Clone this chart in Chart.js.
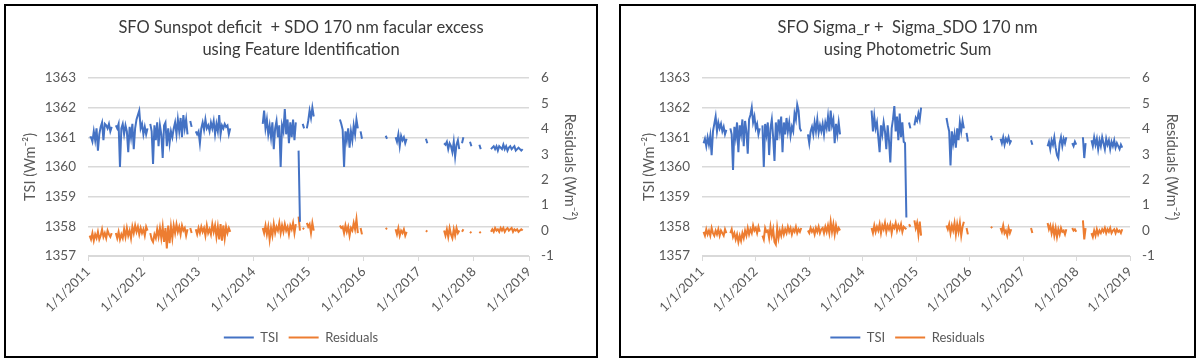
<!DOCTYPE html>
<html>
<head>
<meta charset="utf-8">
<script src="https://cdn.jsdelivr.net/npm/chart.js@4.4.1/dist/chart.umd.min.js"></script>
<style>
  body { margin: 0; background: #fff; width: 1200px; height: 364px; overflow: hidden; }
  .box { position: absolute; top: 4px; height: 350px; border: 2px solid #000; background: #fff; }
  #boxA { left: 4px; width: 590px; }
  #boxB { left: 619px; width: 573px; }
  canvas { display: block; }
</style>
</head>
<body>
<div class="box" id="boxA"><canvas id="chartA" width="590" height="350"></canvas></div>
<div class="box" id="boxB"><canvas id="chartB" width="573" height="350"></canvas></div>
<script>
// the data (x in decimal years, ~9 days between readings)

const STEP = 0.025
const yearLabels = ['1/1/2011', '1/1/2012', '1/1/2013', '1/1/2014', '1/1/2015',
                    '1/1/2016', '1/1/2017', '1/1/2018', '1/1/2019']

// left chart: feature identification
const startsA = [2011.03, 2014.17, 2015.57, 2016.40, 2016.58, 2017.13, 2017.46, 2017.93, 2018.10, 2018.26]

const tsiA = [
    [1361.0, 1361.0, 1360.85, 1361.2, 1360.9, 1361.3, 1360.55, 1361.1, 1361.35, 1361.5,
     1360.9, 1361.45, 1361.4, 1361.3, 1361.45, 1361.2, 1361.35, null, null, 1361.4,
     1361.3, 1361.45, 1360.0, 1361.3, 1361.45, 1361.1, 1361.4, 1361.2, 1360.5, 1361.35,
     1361.0, 1361.45, 1360.6, 1361.3, 1361.6, 1361.75, 1361.9, 1361.3, 1361.45, 1361.1,
     1361.35, 1361.1, 1361.3, null, 1361.45, 1361.2, 1360.1, 1361.4, 1360.9, 1361.5,
     1360.7, 1361.4, 1361.1, 1360.3, 1361.4, 1361.5, 1360.7, 1361.3, 1360.8, 1361.2,
     1361.0, 1361.3, 1361.5, 1361.1, 1361.6, 1361.2, 1361.65, 1361.0, 1361.75, 1361.3,
     1361.6, 1361.1, null, 1361.55, 1361.35, null, null, 1361.2, 1361.1, 1361.2,
     1360.8, 1361.3, 1361.5, 1361.25, 1361.6, 1361.3, 1361.4, 1361.2, 1361.5, 1361.3,
     1361.55, 1361.1, 1361.45, 1361.2, 1361.75, 1361.1, 1361.4, 1361.3, 1361.45, 1361.35,
     1361.4, 1361.1, 1361.3],
    [1361.45, 1361.9, 1361.3, 1361.6, 1361.1, 1361.4, 1361.0, 1361.5, 1360.6, 1361.3,
     1361.55, 1361.0, 1361.4, 1360.0, 1361.4, 1361.2, 1361.95, 1361.1, 1361.6, 1360.8,
     1361.5, 1361.0, 1361.6, 1360.9, 1361.5, null, 1360.55, 1358.15, null, 1361.45,
     1361.3, null, 1361.3, 1361.55, 1361.9, 1361.65, 1362.0, 1361.7],
    [1361.6, 1361.45, 1361.25, 1360.0, 1361.2, 1360.9, 1361.3, 1360.65, 1361.2, 1360.9,
     1361.4, 1361.1, 1361.6, 1361.3, null, 1361.2, 1360.95],
    [1361.05, 1360.95],
    [1361.0, 1360.85, 1361.1, 1360.7, 1361.05, 1360.9, 1361.0, 1360.8, 1360.95],
    [1360.95, 1360.8],
    [1360.8, 1360.75, 1360.85, 1360.6, 1360.8, 1360.7, 1360.5, 1360.85, 1360.35, 1360.75,
     1360.9, 1360.6, null, 1360.8, 1361.0],
    [1360.85, 1360.7],
    [1360.75, 1360.6],
    [1360.7, null, 1360.6, 1360.65, 1360.7, 1360.6, 1360.7, 1360.55, 1360.7, 1360.65,
     1360.6, 1360.75, 1360.6, 1360.7, 1360.55, 1360.65, 1360.7, 1360.6, 1360.65, 1360.7,
     1360.55, 1360.6, 1360.65, 1360.6, 1360.55, 1360.6]
]

const resA = [
    [-0.2, -0.35, -0.1, -0.4, -0.15, -0.3, -0.05, -0.35, -0.2, 0.05,
     -0.25, -0.1, -0.3, 0.0, -0.15, -0.25, -0.1, null, null, -0.1,
     -0.3, -0.05, -0.35, -0.15, -0.3, 0.05, -0.25, 0.1, -0.2, 0.0,
     -0.3, 0.15, -0.1, 0.2, -0.05, 0.15, -0.15, 0.1, -0.1, 0.05,
     -0.2, 0.15, 0.0, null, -0.1, -0.35, -0.45, -0.15, -0.3, 0.05,
     -0.25, 0.1, -0.3, 0.15, -0.45, 0.1, -0.7, 0.2, -0.5, 0.15,
     -0.3, 0.2, -0.1, 0.25, -0.05, 0.15, -0.15, 0.2, 0.0, 0.1,
     -0.2, 0.05, null, 0.1, -0.1, null, null, 0.05, -0.15, 0.1,
     -0.1, 0.15, -0.05, 0.1, -0.2, 0.2, -0.1, 0.05, -0.15, 0.25,
     -0.05, 0.2, -0.25, 0.15, -0.35, 0.25, -0.4, 0.2, -0.3, 0.15,
     -0.1, 0.1, -0.05],
    [0.1, -0.1, 0.2, -0.15, 0.15, -0.35, 0.1, -0.2, 0.25, -0.1,
     0.15, 0.0, 0.3, -0.1, 0.2, -0.05, 0.25, 0.0, 0.15, -0.15,
     0.2, 0.05, 0.3, -0.1, 0.25, null, 0.55, 0.0, null, 0.1,
     0.05, null, 0.3, 0.15, 0.25, -0.1, 0.3, 0.0],
    [0.2, 0.1, 0.15, -0.1, 0.2, -0.05, 0.15, -0.2, 0.1, 0.0,
     0.3, 0.05, 0.45, -0.1, null, 0.1, -0.15],
    [0.05, 0.1],
    [0.05, -0.15, 0.1, -0.2, 0.0, -0.1, 0.05, -0.2, -0.05],
    [0.0, -0.05],
    [0.0, -0.2, 0.05, -0.25, 0.1, -0.15, -0.3, 0.05, -0.2, 0.1,
     -0.1, 0.0, null, -0.05, 0.05],
    [-0.05, -0.1],
    [-0.05, -0.1],
    [0.0, null, -0.05, 0.05, -0.05, 0.1, 0.0, 0.05, -0.05, 0.1,
     0.0, 0.1, -0.05, 0.05, 0.1, 0.0, 0.05, 0.1, -0.05, 0.05,
     0.0, 0.05, -0.05, 0.0, 0.05, 0.0]
]

// right chart: photometric sum
const startsB = [2011.03, 2014.17, 2015.57, 2016.40, 2016.58, 2017.15, 2017.46, 2017.92, 2018.12, 2018.28]

const tsiB = [
    [1360.8, 1360.95, 1360.7, 1361.0, 1360.75, 1361.05, 1360.4, 1361.2, 1361.45, 1361.7,
     1361.2, 1361.5, 1361.3, 1361.45, 1361.2, 1361.35, 1361.1, 1361.25, null, null,
     1361.3, 1361.1, 1359.9, 1361.35, 1361.0, 1361.5, 1360.5, 1361.4, 1361.1, 1361.6,
     1360.7, 1361.55, 1361.2, 1360.45, 1361.6, 1361.75, 1362.0, 1361.5, 1361.7, 1361.3,
     1361.45, 1361.1, 1361.3, null, 1361.4, 1360.0, 1361.45, 1361.1, 1361.5, 1360.4,
     1361.3, 1361.6, 1361.0, 1360.2, 1361.5, 1360.9, 1361.6, 1361.2, 1361.7, 1360.5,
     1361.5, 1361.1, 1361.65, 1361.2, 1361.5, 1361.05, 1361.35, 1361.2, 1361.8, 1361.6,
     1362.1, 1361.9, 1361.3, 1361.2, null, null, null, null, 1361.1, 1360.8,
     1361.2, 1361.35, 1361.1, 1361.5, 1361.2, 1361.6, 1361.15, 1361.4, 1361.2, 1361.45,
     1361.1, 1361.5, 1361.3, 1361.7, 1361.2, 1361.9, 1361.4, 1361.6, 1360.8, 1361.45,
     1361.1, 1361.5, 1361.1],
    [1361.9, 1361.2, 1361.7, 1361.3, 1361.5, 1361.0, 1360.5, 1361.4, 1361.1, 1361.5,
     1361.2, 1360.6, 1361.4, 1360.9, 1360.15, 1361.3, 1361.6, 1362.05, 1361.2, 1361.7,
     1360.9, 1361.8, 1361.0, 1361.5, 1360.85, 1360.8, 1358.3, null, 1361.5, 1361.3,
     null, null, 1361.4, 1361.65, 1361.55, 1361.8, 1361.6, 1362.0],
    [1361.65, 1361.4, 1361.2, 1360.05, 1361.2, 1360.8, 1361.1, 1360.65, 1361.3, 1360.9,
     1361.5, 1361.2, 1361.55, 1361.3, null, 1361.15, 1360.85],
    [1361.05, 1360.9],
    [1360.95, 1360.8, 1361.0, 1360.75, 1360.95, 1360.85, 1361.0, 1360.8, 1360.9],
    [1360.9, 1360.75],
    [1360.7, 1360.85, 1360.6, 1360.9, 1360.75, 1361.0, 1360.65, 1360.4, 1360.3, 1360.8,
     1361.0, 1360.7, 1360.95, 1360.8, 1361.0],
    [1360.8, 1360.7, 1360.85, 1360.75],
    [1361.0, 1360.3, 1360.8],
    [1360.9, 1360.7, 1361.0, 1360.75, 1360.95, 1360.6, 1360.9, 1360.7, 1361.0, 1360.8,
     1360.6, 1360.95, 1360.75, 1360.9, 1360.6, 1360.85, 1360.7, 1360.9, 1360.65, 1360.8,
     1360.7, 1360.6, 1360.75, 1360.65]
]

const resB = [
    [-0.05, -0.2, 0.05, -0.15, 0.0, -0.2, 0.1, -0.1, -0.2, 0.0,
     -0.15, 0.05, -0.2, 0.0, -0.1, -0.2, 0.05, -0.1, null, null,
     -0.1, 0.05, -0.25, -0.1, -0.35, -0.15, -0.45, -0.2, -0.4, -0.1,
     -0.3, 0.0, -0.2, 0.1, -0.15, 0.05, -0.1, 0.2, 0.0, 0.1,
     -0.1, 0.15, -0.05, null, -0.2, -0.35, 0.1, -0.05, 0.0, -0.3,
     0.15, -0.2, 0.05, -0.45, -0.55, 0.1, -0.3, 0.0, -0.2, 0.1,
     -0.15, 0.05, -0.1, 0.15, -0.05, 0.1, -0.15, 0.05, -0.05, 0.15,
     -0.1, 0.05, -0.05, 0.1, null, null, null, null, 0.0, -0.1,
     0.1, -0.05, 0.05, -0.15, 0.1, -0.05, 0.15, -0.1, 0.05, 0.1,
     -0.1, 0.15, -0.05, 0.2, -0.1, 0.35, -0.05, 0.25, -0.15, 0.2,
     -0.05, 0.1, 0.0],
    [0.1, -0.1, 0.2, -0.05, 0.15, 0.0, 0.25, -0.1, 0.2, 0.05,
     0.3, -0.05, 0.2, 0.05, 0.25, -0.1, 0.2, 0.1, 0.3, 0.0,
     0.2, 0.05, 0.25, -0.05, 0.15, 0.1, 0.05, null, 0.25, 0.15,
     null, null, 0.4, 0.1, 0.3, -0.15, 0.35, -0.2],
    [0.2, 0.05, 0.25, -0.1, 0.2, 0.0, 0.3, -0.15, 0.25, -0.05,
     0.3, -0.2, 0.15, 0.35, null, 0.1, -0.15],
    [0.15, 0.1],
    [0.1, -0.05, 0.2, -0.1, 0.0, -0.2, 0.1, -0.1, 0.05],
    [0.1, -0.1],
    [0.3, 0.05, 0.2, -0.1, 0.15, -0.2, 0.1, -0.25, 0.05, -0.15,
     0.1, -0.05, 0.0, -0.15, 0.05],
    [0.1, 0.0, 0.05, -0.05],
    [0.4, -0.35, 0.1],
    [-0.1, -0.25, 0.0, -0.2, 0.05, -0.15, 0.0, -0.1, 0.05, -0.05,
     0.1, -0.1, 0.05, -0.05, 0.1, -0.1, 0.0, 0.05, -0.1, 0.05,
     -0.05, 0.0, -0.1, 0.05]
]

const BLUE = '#4472C4'
const ORANGE = '#ED7D31'
const GRID = '#d9d9d9'
const TEXT = '#595959'
const FONT = 'Lato, "Open Sans", sans-serif'

Chart.defaults.font.family = FONT
Chart.defaults.color = TEXT

// turn the segments into {x,y} points, with a null between segments so the line breaks
function toPoints(starts, segs) {
    let pts = []
    segs.forEach((seg, k) => {
        seg.forEach((v, i) => pts.push({ x: starts[k] + i * STEP, y: v }))
        pts.push({ x: starts[k] + seg.length * STEP, y: null })
    })
    return pts
}

function makeChart(id, titleLines, starts, tsi, res, lay) {
    return new Chart(document.getElementById(id), {
        type: 'line',
        data: {
            datasets: [
                { label: 'TSI', data: toPoints(starts, tsi), borderColor: BLUE, backgroundColor: BLUE, yAxisID: 'y' },
                { label: 'Residuals', data: toPoints(starts, res), borderColor: ORANGE, backgroundColor: ORANGE, yAxisID: 'y2' }
            ]
        },
        options: {
            responsive: false,
            animation: false,
            datasets: { line: { borderWidth: 2, pointRadius: 0, spanGaps: false, tension: 0, pointStyle: 'line' } },
            layout: { padding: { top: 0, bottom: 2, left: 0, right: 0 } },
            plugins: {
                title: {
                    display: true,
                    text: titleLines,
                    color: '#3a3a3a',
                    font: { size: 16.5, weight: 'normal', lineHeight: 1.3 },
                    padding: { top: 11, bottom: 18 }
                },
                legend: {
                    position: 'bottom',
                    labels: { usePointStyle: true, pointStyleWidth: 30, padding: 10, color: TEXT, font: { size: 13 } }
                },
                tooltip: { enabled: false }
            },
            scales: {
                x: {
                    type: 'linear',
                    min: 2011,
                    max: 2019,
                    ticks: {
                        stepSize: 1,
                        autoSkip: false,
                        minRotation: 45,
                        maxRotation: 45,
                        font: { size: 13 },
                        callback: (v) => yearLabels[v - 2011]
                    },
                    grid: { drawOnChartArea: false, drawTicks: true, tickLength: 5, color: GRID },
                    border: { color: GRID },
                    afterFit: (s) => { s.height = 65 }
                },
                y: {
                    position: 'left',
                    min: 1357,
                    max: 1363,
                    ticks: { stepSize: 1, padding: 12, font: { size: 13.5 }, callback: (v) => String(v) },
                    grid: { color: GRID, lineWidth: 1.5, drawTicks: false },
                    border: { display: false },
                    title: { display: true, text: 'TSI (Wm⁻²)', font: { size: 14.5 }, padding: { top: lay.lt, bottom: 0 } },
                    afterFit: (s) => { s.width = lay.left }
                },
                y2: {
                    position: 'right',
                    min: -1,
                    max: 6,
                    ticks: { stepSize: 1, padding: 12, font: { size: 13.5 }, callback: (v) => String(v) },
                    grid: { display: false, drawTicks: false },
                    border: { display: false },
                    title: { display: true, text: 'Residuals (Wm⁻²)', font: { size: 14.5 }, padding: { top: lay.rt, bottom: 0 } },
                    afterFit: (s) => { s.width = lay.right }
                }
            }
        }
    })
}

makeChart('chartA', ['SFO Sunspot deficit  + SDO 170 nm facular excess', 'using Feature Identification'],
    startsA, tsiA, resA, { left: 82, right: 67, lt: 16, rt: 18 })
makeChart('chartB', ['SFO Sigma_r +  Sigma_SDO 170 nm', 'using Photometric Sum'],
    startsB, tsiB, resB, { left: 81, right: 64, lt: 20, rt: 14 })
</script>
</body>
</html>
